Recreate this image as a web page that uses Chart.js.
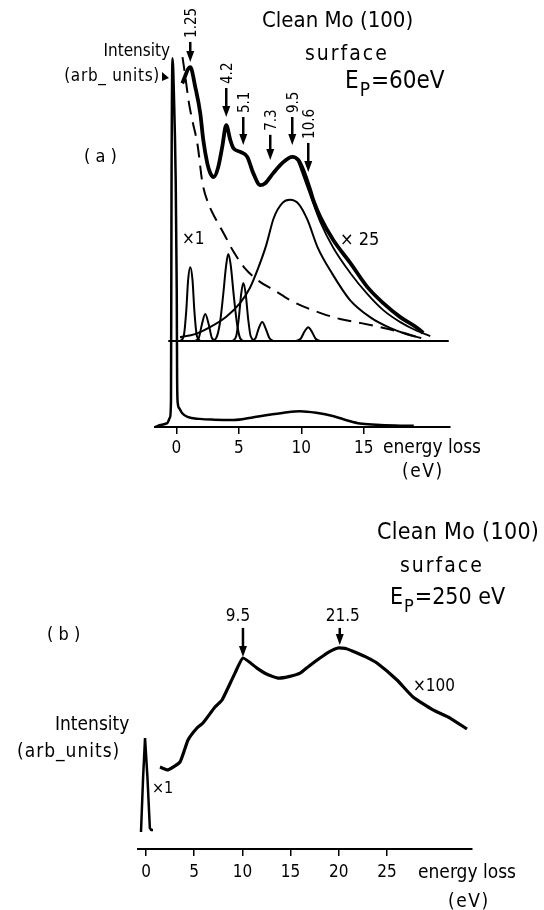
<!DOCTYPE html>
<html>
<head>
<meta charset="utf-8">
<script src="https://cdn.jsdelivr.net/npm/chart.js@4.4.1/dist/chart.umd.min.js"></script>
<style>
  html, body { margin: 0; padding: 0; background: #fff; }
  #wrap { position: relative; width: 544px; height: 910px; }
  canvas { position: absolute; left: 0; }
  #chartA { top: 0; }
  #chartB { top: 490px; }
</style>
</head>
<body>
<div id="wrap">
  <canvas id="chartA" width="544" height="490"></canvas>
  <canvas id="chartB" width="544" height="420"></canvas>
</div>
<script>
const FONT = "'DejaVu Sans Condensed', 'DejaVu Sans', sans-serif";

// ---- panel (a): Ep = 60 eV ----
const aTicks = [0, 5, 10, 15];

// measured spectrum x25
const aMeasuredE = [0.48, 1.12, 1.52, 1.92, 2.16, 2.48, 2.72, 3.0, 3.36, 3.68, 4.0, 4.32, 4.56, 5.12, 5.68, 6.16, 6.72, 7.12, 7.76, 8.48, 9.28, 9.76, 10.16, 10.72, 10.96, 11.52, 12.56, 13.92, 15.28, 16.56, 17.92, 19.28, 19.76];
const aMeasuredI = [88.8, 93.0, 87.9, 81.1, 74.2, 68.2, 65.6, 64.6, 67.2, 72.4, 78.0, 74.2, 72.1, 71.1, 69.8, 65.6, 62.5, 63.0, 65.6, 68.2, 69.8, 69.0, 66.4, 61.2, 58.7, 54.3, 48.3, 42.4, 36.2, 32.0, 28.4, 25.6, 24.3];

// fitted envelope (visible on the high-loss side)
const aFitE = [9.76, 10.72, 11.52, 12.56, 13.92, 15.28, 16.56, 17.92, 19.28, 20.32];
const aFitI = [68.5, 59.9, 53.0, 46.3, 39.8, 34.4, 30.2, 27.1, 24.8, 23.5];

// secondary electron background (dashed)
const aBackE = [0.5, 0.75, 1.0, 1.3, 1.7, 2.1, 2.6, 3.2, 3.8, 4.6, 5.5, 6.7, 7.8, 9.1, 10.5, 11.5, 13.1, 14.7, 16.6, 18.2, 19.5];
const aBackI = [95.6, 90, 84, 79, 73, 63, 57.5, 53.5, 50, 45.2, 41, 37.5, 35.4, 32.8, 30.7, 29.5, 27.9, 26.9, 25.6, 24.3, 23.0];

// fitted components
const aPeak1E = [0.3, 0.6, 0.8, 0.95, 1.12, 1.3, 1.45, 1.65, 1.95];
const aPeak1I = [22.2, 23.5, 30, 38, 41.3, 38, 30, 23.5, 22.2];
const aPeak2E = [1.5, 1.8, 2.05, 2.32, 2.6, 2.85, 3.2];
const aPeak2I = [22.2, 23, 26.5, 29.2, 26.5, 23, 22.2];
const aPeak3E = [2.8, 3.2, 3.5, 3.75, 4.0, 4.16, 4.35, 4.6, 4.85, 5.1, 5.4];
const aPeak3I = [22.2, 23, 27, 34, 42, 44.7, 42, 34, 27, 23, 22.2];
const aPeak4E = [4.5, 4.8, 5.0, 5.2, 5.36, 5.55, 5.75, 5.95, 6.3];
const aPeak4I = [22.2, 23.5, 28, 34.5, 37.2, 34.5, 28, 23.5, 22.2];
const aPeak5E = [6.0, 6.35, 6.6, 6.88, 7.15, 7.45, 7.8];
const aPeak5I = [22.2, 23, 25.5, 27.1, 25.5, 23, 22.2];
const aPeak6E = [9.6, 9.95, 10.25, 10.56, 10.85, 11.15, 11.5];
const aPeak6I = [22.2, 22.8, 24.6, 25.8, 24.6, 22.8, 22.2];
const aBulkE = [0.3, 1.5, 2.7, 4.0, 5.1, 5.9, 6.5, 7.2, 7.8, 8.5, 9.1, 9.8, 10.5, 11.3, 12.5, 13.9, 15.5, 17.1, 18.5, 19.6];
const aBulkI = [23.2, 24, 25.8, 28.5, 32, 36, 40.6, 47, 54, 57.9, 58.7, 57.6, 53.5, 46.5, 39.5, 32.8, 28.4, 25.6, 23.9, 23];

const aBaseE = [-0.64, 21.8];
const aBaseI = [22.2, 22.2];

// x1 spectrum with elastic peak
const aLowE = [-1.68, -1.28, -0.72, -0.5, -0.42, -0.38, -0.3, -0.18, -0.05, 0.04, 0.07, 0.12, 0.25, 0.5, 0.9, 1.9, 3.0, 4.6, 6.0, 7.3, 8.6, 9.9, 11.2, 12.6, 13.7, 14.7, 16.0, 17.5, 19.0];
const aLowI = [0, 0.5, 1.0, 2.5, 7, 60, 95.3, 85, 65, 35, 12, 6.2, 4.8, 3.5, 2.6, 2.1, 1.9, 1.8, 2.4, 3.1, 3.7, 4.1, 3.7, 2.8, 1.7, 0.9, 0.6, 0.4, 0.3];

const aArrowText = ['1.25', '4.2', '5.1', '7.3', '9.5', '10.6'];
const aArrowE = [1.12, 4.0, 5.36, 7.52, 9.28, 10.56];
const aArrowTip = [94.3, 80.1, 72.9, 69.0, 72.9, 65.9];
const aArrowTail = [99.5, 87.6, 80.1, 75.5, 80.1, 73.4];

// ---- panel (b): Ep = 250 eV ----
const bTicks = [0, 5, 10, 15, 20, 25];
const bLossE = [1.45, 2.28, 3.53, 4.36, 5.29, 5.91, 7.16, 7.88, 8.40, 9.23, 10.06, 11.51, 12.5, 13.69, 14.8, 15.98, 16.9, 18.05, 19.0, 19.92, 20.8, 21.89, 22.9, 23.96, 26.04, 27.70, 29.77, 31.54, 33.3];
const bLossI = [34.3, 33.1, 36.4, 45.6, 50.6, 52.7, 59.4, 62.3, 66.5, 73.6, 79.9, 75.7, 73.2, 71.5, 72.1, 73.6, 76.5, 79.9, 82.5, 84.1, 83.8, 82.0, 80.2, 77.8, 70.7, 63.6, 58.2, 54.8, 50.2];
const bElasticE = [-0.52, -0.3, -0.1, 0.15, 0.4, 0.55, 0.73];
const bElasticI = [7.1, 30, 46.4, 30, 8.8, 7.9, 7.9];
const bArrowText = ['9.5', '21.5'];
const bArrowE = [10.06, 20.1];
const bArrowTip = [80.3, 85.4];
const bArrowTail = [92.5, 92.5];

function pts(xs, ys) {
    return xs.map((x, i) => ({ x: x, y: ys[i] }));
}

function line(xs, ys, width, extra) {
    return Object.assign({
        data: pts(xs, ys),
        borderColor: '#000',
        borderWidth: width,
        pointRadius: 0,
        fill: false,
        cubicInterpolationMode: 'monotone'
    }, extra || {});
}

function text(ctx, str, x, y, size, align, spacing) {
    ctx.font = size + 'px ' + FONT;
    ctx.textAlign = align || 'left';
    ctx.textBaseline = 'middle';
    ctx.letterSpacing = (spacing || 0) + 'px';
    ctx.fillText(str, x, y);
    ctx.letterSpacing = '0px';
}

function arrow(ctx, x, yTail, yTip) {
    ctx.lineWidth = 2.5;
    ctx.beginPath();
    ctx.moveTo(x, yTail);
    ctx.lineTo(x, yTip - 8);
    ctx.stroke();
    ctx.beginPath();
    ctx.moveTo(x - 4, yTip - 11);
    ctx.lineTo(x + 4, yTip - 11);
    ctx.lineTo(x, yTip);
    ctx.closePath();
    ctx.fill();
}

function epText(ctx, x, y, size, rest) {
    text(ctx, 'E', x, y, size);
    const w = ctx.measureText('E').width;
    text(ctx, 'P', x + w + 1, y + 9, Math.round(size * 0.8));
    const w2 = ctx.measureText('P').width;
    text(ctx, rest, x + w + w2 + 2, y, size);
}

function axisX(min, max, ticks, height, pad) {
    return {
        type: 'linear',
        min: min,
        max: max,
        afterBuildTicks: s => { s.ticks = ticks.map(v => ({ value: v })); },
        afterFit: s => { s.height = height; },
        border: { display: true, color: '#000', width: 2 },
        grid: { drawOnChartArea: false, drawTicks: true, tickLength: 7, color: '#000', lineWidth: 1.5 },
        ticks: { color: '#000', font: { family: FONT, size: 17 }, padding: pad, maxRotation: 0, autoSkip: false }
    };
}

function baseOptions(pad, xScale) {
    return {
        responsive: false,
        animation: false,
        events: [],
        layout: { padding: pad },
        plugins: { legend: { display: false }, tooltip: { enabled: false } },
        scales: { x: xScale, y: { display: false, min: 0, max: 100 } }
    };
}

const notesA = {
    id: 'notesA',
    afterDraw(chart) {
        const { ctx, scales: { x, y } } = chart;
        ctx.save();
        ctx.fillStyle = '#000';
        ctx.strokeStyle = '#000';
        aArrowE.forEach((e, i) => {
            const px = x.getPixelForValue(e);
            const tail = y.getPixelForValue(aArrowTail[i]);
            arrow(ctx, px, tail, y.getPixelForValue(aArrowTip[i]));
            ctx.save();
            ctx.translate(px + 2, tail - 4);
            ctx.rotate(-Math.PI / 2);
            text(ctx, aArrowText[i], 0, 0, 15);
            ctx.restore();
        });
        text(ctx, 'Clean Mo (100)', 262, 21, 22);
        text(ctx, 'surface', 305, 55, 21, 'left', 2);
        epText(ctx, 345, 82, 24, '=60eV');
        text(ctx, 'Intensity', 170, 52, 17, 'right');
        text(ctx, '(arb_ units)', 160, 77, 17, 'right', 0.7);
        ctx.beginPath();
        ctx.moveTo(162, 72);
        ctx.lineTo(169, 78);
        ctx.lineTo(162, 81);
        ctx.closePath();
        ctx.fill();
        text(ctx, '( a )', 84, 157, 18);
        text(ctx, '×1', 182, 240, 17);
        text(ctx, '× 25', 340, 240, 18);
        text(ctx, 'energy loss', 383, 448, 19);
        text(ctx, '(eV)', 402, 472, 19, 'left', 1.5);
        ctx.restore();
    }
};

const notesB = {
    id: 'notesB',
    afterDraw(chart) {
        const { ctx, scales: { x, y } } = chart;
        ctx.save();
        ctx.fillStyle = '#000';
        ctx.strokeStyle = '#000';
        bArrowE.forEach((e, i) => {
            const px = x.getPixelForValue(e);
            const tail = y.getPixelForValue(bArrowTail[i]);
            arrow(ctx, px, tail, y.getPixelForValue(bArrowTip[i]));
            text(ctx, bArrowText[i], px + (i === 0 ? -5 : 3), tail - 11, 17, 'center');
        });
        text(ctx, 'Clean Mo (100)', 377, 43, 23, 'left', 0.3);
        text(ctx, 'surface', 400, 77, 21, 'left', 2);
        epText(ctx, 390, 108, 23, '=250 eV');
        text(ctx, '( b )', 47, 145, 18);
        text(ctx, '×100', 413, 197, 17);
        text(ctx, 'Intensity', 55, 235, 19);
        text(ctx, '(arb_units)', 17, 262, 19, 'left', 1);
        text(ctx, '×1', 152, 299, 16);
        text(ctx, 'energy loss', 418, 383, 19);
        text(ctx, '(eV)', 448, 412, 19, 'left', 1.5);
        ctx.restore();
    }
};

new Chart(document.getElementById('chartA'), {
    type: 'line',
    data: {
        datasets: [
            line(aMeasuredE, aMeasuredI, 3.8),
            line(aFitE, aFitI, 1.8),
            line(aBackE, aBackI, 2, { borderDash: [14, 8] }),
            line(aBulkE, aBulkI, 2),
            line(aPeak1E, aPeak1I, 2),
            line(aPeak2E, aPeak2I, 2),
            line(aPeak3E, aPeak3I, 2),
            line(aPeak4E, aPeak4I, 2),
            line(aPeak5E, aPeak5I, 2),
            line(aPeak6E, aPeak6I, 2),
            line(aBaseE, aBaseI, 2, { cubicInterpolationMode: 'default', tension: 0 }),
            line(aLowE, aLowI, 2.5)
        ]
    },
    options: baseOptions({ left: 155, right: 94, top: 40, bottom: 0 }, axisX(-1.7, 21.9, aTicks, 63, 4)),
    plugins: [notesA]
});

new Chart(document.getElementById('chartB'), {
    type: 'line',
    data: {
        datasets: [
            line(bLossE, bLossI, 3.2, { cubicInterpolationMode: 'default', tension: 0.15 }),
            line(bElasticE, bElasticI, 2.5, { cubicInterpolationMode: 'default', tension: 0 })
        ]
    },
    options: baseOptions({ left: 138, right: 72, top: 120, bottom: 0 }, axisX(-0.83, 33.82, bTicks, 61, 6)),
    plugins: [notesB]
});
</script>
</body>
</html>
